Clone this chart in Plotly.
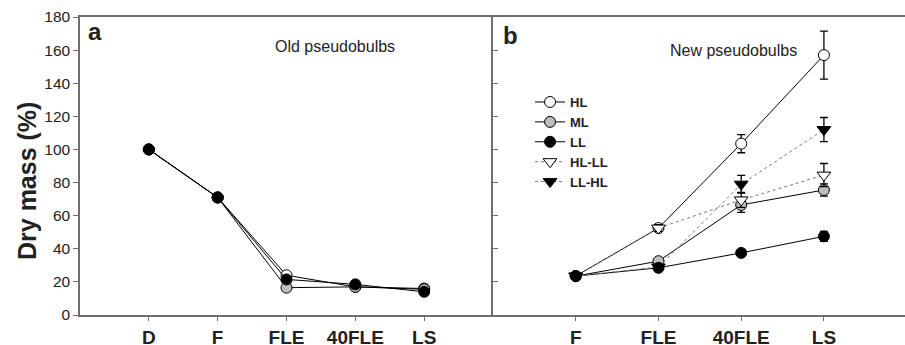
import plotly.graph_objects as go

# ---- data ----
old_cats = ["D", "F", "FLE", "40FLE", "LS"]
new_cats = ["F", "FLE", "40FLE", "LS"]

old_HL = [100, 71, 24, 17, 16]
old_ML = [100, 71, 16.5, 17, 15.5]
old_LL = [100, 71, 21.5, 18.5, 14]

new_HL = [23.5, 52.5, 103.5, 157]
new_HL_err = [0, 2, 5.5, 14.5]
new_ML = [23.5, 32.5, 66.5, 75.5]
new_ML_err = [0, 1.5, 4.5, 3.7]
new_LL = [23.5, 28.5, 37.5, 47.5]
new_LL_err = [0, 1.5, 1.5, 3]
new_HLLL = [23.5, 52.5, 69.5, 84.5]
new_HLLL_err = [0, 2, 4.5, 7]
new_LLHL = [23.5, 29, 79, 112]
new_LLHL_err = [0, 1.5, 5.3, 7.3]

FONT = "Liberation Sans, Arial, sans-serif"
AX = "#6f6f6f"

fig = go.Figure()

def add(x, y, name, symbol, fill, dash, xa, ya, err=None, legend=False, size=11):
    fig.add_trace(go.Scatter(
        x=x, y=y, name=name, mode="lines+markers",
        line=dict(color="black" if dash == "solid" else "#777", width=1, dash=dash),
        marker=dict(symbol=symbol, size=size, color=fill, line=dict(color="black", width=1)),
        error_y=(dict(type="data", array=err, visible=True, color="black", thickness=1.3, width=4)
                 if err is not None else None),
        xaxis=xa, yaxis=ya, showlegend=legend,
    ))

# left panel
add(old_cats, old_HL, "HL", "circle", "white", "solid", "x", "y")
add(old_cats, old_ML, "ML", "circle", "#bdbdbd", "solid", "x", "y")
add(old_cats, old_LL, "LL", "circle", "black", "solid", "x", "y")

# right panel
add(new_cats, new_HL, "HL", "circle", "white", "solid", "x2", "y2", new_HL_err, True)
add(new_cats, new_ML, "ML", "circle", "#bdbdbd", "solid", "x2", "y2", new_ML_err, True)
add(new_cats, new_LL, "LL", "circle", "black", "solid", "x2", "y2", new_LL_err, True)
add(new_cats, new_HLLL, "HL-LL", "triangle-down", "white", "dot", "x2", "y2", new_HLLL_err, True, 12)
add(new_cats, new_LLHL, "LL-HL", "triangle-down", "black", "dot", "x2", "y2", new_LLHL_err, True, 12)

split = (493 - 80) / 825

fig.update_layout(
    width=905, height=345,
    margin=dict(l=80, r=0, t=17, b=30, autoexpand=False),
    paper_bgcolor="white", plot_bgcolor="white",
    font=dict(family=FONT, color="#222"),
    xaxis=dict(domain=[0, split], anchor="y", type="category", range=[-1, 5], automargin=False,
               showline=True, linecolor=AX, linewidth=1.5, mirror=True,
               ticks="outside", ticklen=4, tickcolor=AX, showgrid=False, zeroline=False,
               tickfont=dict(size=19, weight="bold", color="#222")),
    yaxis=dict(domain=[0, 1], anchor="x", range=[0, 180], dtick=20, automargin=False,
               showline=True, linecolor=AX, linewidth=1.5,
               ticks="outside", ticklen=5, tickcolor=AX, showgrid=False, zeroline=False,
               tickfont=dict(size=15.5, color="#222")),
    xaxis2=dict(domain=[split, 1], anchor="y2", type="category", range=[-1, 3.98], automargin=False,
                showline=True, linecolor=AX, linewidth=1.5, mirror=True,
                ticks="outside", ticklen=4, tickcolor=AX, showgrid=False, zeroline=False,
                tickfont=dict(size=19, weight="bold", color="#222")),
    yaxis2=dict(domain=[0, 1], anchor="x2", range=[0, 180], dtick=20, automargin=False,
                showline=True, linecolor=AX, linewidth=1.5,
                ticks="inside", ticklen=5, tickcolor=AX, showticklabels=False,
                showgrid=False, zeroline=False),
    legend=dict(x=0.5455, y=0.765, xanchor="left", yanchor="top",
                bgcolor="rgba(0,0,0,0)", borderwidth=0,
                font=dict(size=13, weight="bold", color="#222"), tracegroupgap=0),
    annotations=[
        dict(text="Dry mass (%)", x=(27 - 80) / 825, y=(315 - 181) / 298, xref="paper", yref="paper",
             xanchor="center", yanchor="middle", textangle=-90, showarrow=False,
             font=dict(size=25, weight="bold", color="#222")),
        dict(text="a", x=0.0073, y=0.951, xref="paper", yref="paper", xanchor="left", yanchor="middle",
             showarrow=False, font=dict(size=24, weight="bold", color="#222")),
        dict(text="b", x=0.510, y=0.938, xref="paper", yref="paper", xanchor="left", yanchor="middle",
             showarrow=False, font=dict(size=24, weight="bold", color="#222")),
        dict(text="Old pseudobulbs", x=(335 - 80) / 825, y=(315 - 46) / 298, xref="paper", yref="paper",
             xanchor="center", yanchor="middle", showarrow=False, font=dict(size=16, color="#222")),
        dict(text="New pseudobulbs", x=(733 - 80) / 825, y=(315 - 51) / 298, xref="paper", yref="paper",
             xanchor="center", yanchor="middle", showarrow=False, font=dict(size=16, color="#222")),
    ],
)

fig.write_html("out.html", post_script="document.body.style.margin='0';",
               config={"displayModeBar": False})
